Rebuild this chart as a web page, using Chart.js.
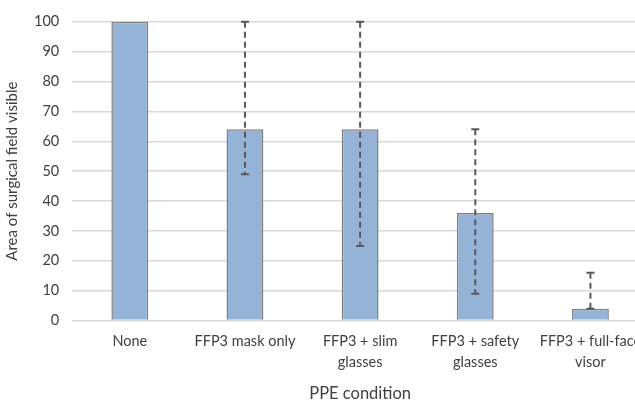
<!DOCTYPE html>
<html>
<head>
<meta charset="utf-8">
<script src="https://cdn.jsdelivr.net/npm/chart.js@4.4.0/dist/chart.umd.min.js"></script>
<style>
  html, body { margin: 0; padding: 0; background: #fff; overflow: hidden; }
  #wrap { position: relative; width: 648px; height: 402px; }
</style>
</head>
<body>
<div id="wrap"><canvas id="chart"></canvas></div>
<script>
// PPE conditions and visible surgical field (%)
const categories = [
  'None',
  'FFP3 mask only',
  ['FFP3 + slim', 'glasses'],
  ['FFP3 + safety', 'glasses'],
  ['FFP3 + full-face', 'visor']
];
const values = [100, 64, 64, 36, 4];
const errLow = [100, 49, 25, 9, 4];
const errHigh = [100, 100, 100, 64, 16];
const yTicks = [0, 10, 20, 30, 40, 50, 60, 70, 80, 90, 100];

const FONT = 'Lato, "Open Sans", sans-serif';
const TEXT = '#404040';

// dashed range bars with small caps
const errorBars = {
  id: 'errorBars',
  afterDatasetsDraw(chart) {
    const { ctx, scales: { y } } = chart;
    const meta = chart.getDatasetMeta(0);
    ctx.save();
    ctx.strokeStyle = '#595959';
    ctx.lineWidth = 2;
    meta.data.forEach((bar, i) => {
      const lo = errLow[i], hi = errHigh[i];
      if (lo === hi) return;
      const x = bar.x;
      const yLo = y.getPixelForValue(lo);
      const yHi = y.getPixelForValue(hi);
      ctx.setLineDash([6, 4]);
      ctx.beginPath();
      ctx.moveTo(x, yHi);
      ctx.lineTo(x, yLo);
      ctx.stroke();
      ctx.setLineDash([]);
      ctx.beginPath();
      ctx.moveTo(x - 4, yHi); ctx.lineTo(x + 4, yHi);
      ctx.moveTo(x - 4, yLo); ctx.lineTo(x + 4, yLo);
      ctx.stroke();
    });
    ctx.restore();
  }
};

new Chart(document.getElementById('chart'), {
  type: 'bar',
  data: {
    labels: categories,
    datasets: [{
      data: values,
      backgroundColor: '#95B3D7',
      borderColor: '#7F7F7F',
      borderWidth: 1.5,
      categoryPercentage: 1,
      barPercentage: 0.32
    }]
  },
  plugins: [errorBars],
  options: {
    responsive: true,
    maintainAspectRatio: false,
    animation: false,
    layout: { padding: { top: -5, right: 0, bottom: -2, left: 3 } },
    plugins: { legend: { display: false }, tooltip: { enabled: false } },
    scales: {
      x: {
        grid: { display: false },
        border: { display: false },
        ticks: { color: TEXT, font: { family: FONT, size: 14.5, lineHeight: 1.4 }, maxRotation: 0, autoSkip: false, padding: 3 },
        title: { display: true, text: 'PPE condition', color: TEXT, font: { family: FONT, size: 16.5 }, padding: { top: 9, bottom: 0 } }
      },
      y: {
        min: 0,
        max: 100,
        afterBuildTicks: axis => { axis.ticks = yTicks.map(v => ({ value: v })); },
        grid: { color: '#D9D9D9', lineWidth: 1.5, drawTicks: false },
        border: { display: false },
        ticks: { color: TEXT, font: { family: FONT, size: 14.5 }, padding: 13 },
        title: { display: true, text: 'Area of surgical field visible', color: TEXT, font: { family: FONT, size: 15 }, padding: { top: 0, bottom: 0 } }
      }
    }
  }
});
</script>
</body>
</html>
